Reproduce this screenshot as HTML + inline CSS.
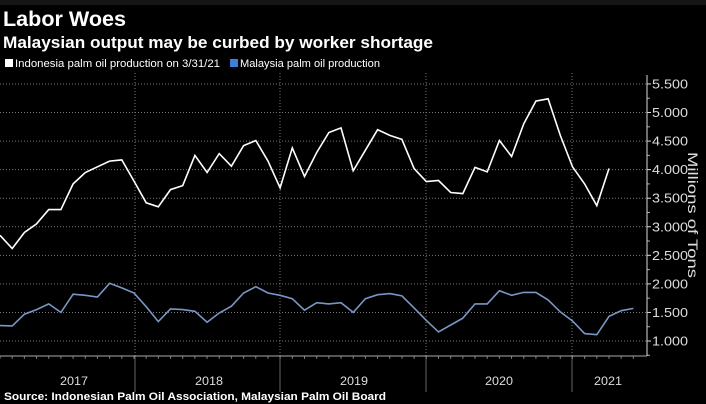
<!DOCTYPE html>
<html><head><meta charset="utf-8"><style>
html,body{margin:0;padding:0;background:#000;}
svg{display:block;font-family:"Liberation Sans",sans-serif;}
</style></head><body>
<svg id="c" width="706" height="404" viewBox="0 0 706 404" xmlns="http://www.w3.org/2000/svg">
<rect width="706" height="404" fill="#000"/>
<rect width="706" height="5" fill="#151515"/>
<text x="3" y="26" fill="#fff" font-size="21" font-weight="bold" textLength="123" lengthAdjust="spacingAndGlyphs">Labor Woes</text>
<text x="3" y="48" fill="#fff" font-size="17" font-weight="bold" textLength="430" lengthAdjust="spacingAndGlyphs">Malaysian output may be curbed by worker shortage</text>
<rect x="5" y="59" width="8" height="8" fill="#fff"/>
<text x="15" y="67" fill="#fff" font-size="11" textLength="205" lengthAdjust="spacingAndGlyphs">Indonesia palm oil production on 3/31/21</text>
<rect x="230" y="59" width="8" height="8" fill="#3d7fd9"/>
<text x="240" y="67" fill="#fff" font-size="11" textLength="140" lengthAdjust="spacingAndGlyphs">Malaysia palm oil production</text>
<g id="grid"></g>
<line x1="647" y1="75" x2="647" y2="356" stroke="#ddd" stroke-width="1"/>
<line x1="0" y1="356" x2="647" y2="356" stroke="#aaa" stroke-width="1"/>
<g fill="#fff" font-size="12">
<text x="60" y="385" fill="#ddd" textLength="28" lengthAdjust="spacingAndGlyphs">2017</text>
<text x="195" y="385" fill="#ddd" textLength="28" lengthAdjust="spacingAndGlyphs">2018</text>
<text x="340" y="385" fill="#ddd" textLength="28" lengthAdjust="spacingAndGlyphs">2019</text>
<text x="485" y="385" fill="#ddd" textLength="28" lengthAdjust="spacingAndGlyphs">2020</text>
<text x="594" y="385" fill="#ddd" textLength="28" lengthAdjust="spacingAndGlyphs">2021</text>
</g>
<text x="4" y="400" fill="#fff" font-size="11" font-weight="bold" textLength="382" lengthAdjust="spacingAndGlyphs">Source: Indonesian Palm Oil Association, Malaysian Palm Oil Board</text>
<text transform="translate(688,215) rotate(90)" text-anchor="middle" fill="#ddd" font-size="14" textLength="126" lengthAdjust="spacingAndGlyphs">Millions of Tons</text>
<polyline id="mal" fill="none" stroke="#7a96c4" stroke-width="1.6"/>
<polyline id="ind" fill="none" stroke="#fff" stroke-width="1.6"/>
</svg>
<script>
var ns="http://www.w3.org/2000/svg";
function Y(v){return 341-(v-1000)/500*28.56;}
var g=document.getElementById('grid');
function el(t,a){var e=document.createElementNS(ns,t);for(var k in a)e.setAttribute(k,a[k]);return e;}
for(var v=1000;v<=5500;v+=500){var y=Y(v);
g.appendChild(el('line',{x1:0,y1:y,x2:647,y2:y,stroke:'#777','stroke-width':1,'stroke-dasharray':'1,2'}));
g.appendChild(el('line',{x1:647,y1:y,x2:651,y2:y,stroke:'#ddd'}));
var t=el('text',{x:652,y:y+4.5,fill:'#ddd','font-size':13,textLength:36,lengthAdjust:'spacingAndGlyphs'});
t.textContent=(v/1000).toFixed(3);g.appendChild(t);
g.appendChild(el('line',{x1:647,y1:y+14.28,x2:650,y2:y+14.28,stroke:'#aaa'}));}
[135,280,426,572].forEach(function(x){
g.appendChild(el('line',{x1:x,y1:73,x2:x,y2:356,stroke:'#777','stroke-dasharray':'1,2'}));
g.appendChild(el('line',{x1:x,y1:356,x2:x,y2:392,stroke:'#666'}));});
for(var i=0;i<53;i++){var x=i*12.18;g.appendChild(el('line',{x1:x,y1:356,x2:x,y2:359,stroke:'#777'}));}
var ind=[2850,2620,2900,3050,3300,3300,3750,3950,4050,4150,4170,3800,3420,3350,3650,3720,4250,3950,4280,4060,4420,4510,4150,3680,4380,3880,4300,4650,4730,3980,4340,4700,4600,4530,4020,3790,3810,3600,3580,4040,3960,4510,4230,4800,5200,5240,4600,4050,3750,3370,4020];
var mal=[1270,1265,1470,1550,1650,1500,1820,1800,1770,2010,1930,1840,1600,1340,1560,1550,1520,1330,1490,1610,1840,1950,1840,1800,1740,1540,1670,1650,1670,1500,1740,1810,1830,1790,1580,1360,1160,1280,1400,1650,1650,1880,1800,1850,1850,1720,1510,1350,1130,1110,1430,1530,1570];
function pts(a){return a.map(function(v,i){return (i*12.18).toFixed(1)+','+Y(v).toFixed(1);}).join(' ');}
document.getElementById('ind').setAttribute('points',pts(ind));
document.getElementById('mal').setAttribute('points',pts(mal));
</script>
</body></html>
